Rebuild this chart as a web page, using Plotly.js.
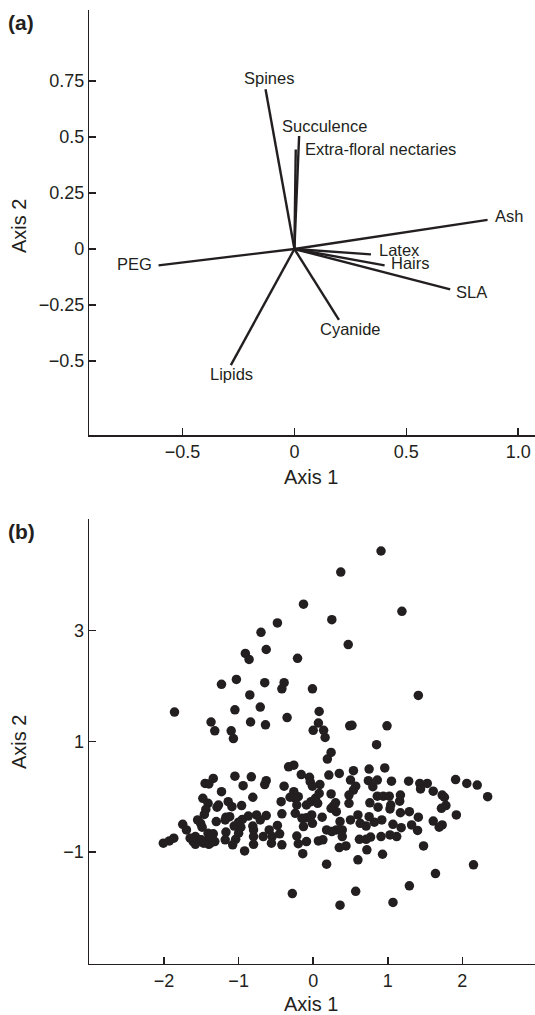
<!DOCTYPE html>
<html>
<head>
<meta charset="utf-8">
<script src="https://cdn.plot.ly/plotly-3.0.1.min.js"></script>
<style>html,body{margin:0;padding:0;background:#fff;}#chart{width:535px;height:1015px;}</style>
</head>
<body>
<div id="chart"></div>
<script>
// ---------- Panel (a): trait loadings ----------
const traitNames = ["Spines","Succulence","Extra-floral nectaries","Ash","Latex","Hairs","SLA","Cyanide","Lipids","PEG"];
const traitAxis1 = [-0.129, 0.021, 0.006, 0.863, 0.342, 0.403, 0.696, 0.199, -0.284, -0.607];
const traitAxis2 = [0.714, 0.505, 0.445, 0.130, -0.024, -0.073, -0.180, -0.317, -0.519, -0.073];

// ---------- Panel (b): site scores ----------
const siteAxis1 = [0.91,0.37,-0.13,1.19,-0.48,0.25,-0.70,0.47,-0.91,-0.86,-0.63,-0.21,-1.23,-1.03,-0.65,-0.39,-0.42,-0.01,-0.85,1.41,
-1.86,-1.05,-0.71,0.08,-1.37,-1.32,-1.10,-1.07,-0.84,-0.64,-0.35,0.07,0.00,0.14,0.16,0.49,0.52,0.99,0.85,0.24,0.19,-0.33,-0.26,
0.54,0.75,0.96,0.35,0.21,-0.16,-0.05,-1.05,-0.83,-1.34,-1.45,-1.40,-0.94,-0.63,-0.65,-0.39,-0.04,-0.01,0.09,0.50,0.57,0.74,0.80,0.86,1.05,1.28,1.43,1.53,1.44,1.61,1.91,2.06,2.20,2.34,1.73,1.76,1.78,1.72,1.92,1.61,1.73,1.69,1.48,1.41,1.40,1.29,1.32,1.18,1.17,1.16,1.17,1.07,1.12,1.03,0.91,0.93,0.92,0.86,0.94,1.02,1.04,1.03,0.87,0.76,0.82,0.75,0.71,0.77,0.71,0.62,0.72,0.60,0.63,0.60,0.50,0.48,0.48,0.54,0.36,0.31,0.27,0.24,0.24,0.30,0.39,0.31,0.39,0.18,0.25,0.44,0.35,0.18,0.07,-0.09,-0.20,-0.14,-0.22,-0.13,-0.01,-0.02,-0.09,-0.15,0.12,-0.24,-0.09,-0.03,0.03,0.08,-0.26,-0.24,-0.20,-0.43,-0.42,-0.48,-0.59,-0.55,-0.67,-0.56,-0.42,-0.63,-0.71,-0.76,-0.87,-0.81,-0.80,-0.80,-0.80,-0.92,-0.95,-0.97,-1.00,-1.04,-1.08,-0.96,-0.81,-1.09,-1.14,-1.17,-1.12,-1.17,-1.23,-1.29,-1.30,-1.34,-1.32,-1.41,-1.44,-1.46,-1.48,-1.51,-1.55,-1.49,-1.41,-1.45,-1.40,-1.37,-1.58,-1.61,-1.65,-1.58,-1.52,-1.70,-1.75,-1.87,-1.93,-2.01,-1.06,-1.00,-0.45,-0.22,-0.31,0.06,0.13,
-1.27,-1.18,-1.56,-1.50,-1.38,-1.47,-1.18,
-0.28,0.36,0.57,1.07,1.29,1.64,2.15];
const siteAxis2 = [4.44,4.06,3.48,3.35,3.14,3.20,2.97,2.75,2.59,2.48,2.66,2.50,2.03,2.12,2.06,2.06,1.95,1.95,1.84,1.83,
1.53,1.57,1.62,1.54,1.35,1.19,1.19,1.05,1.35,1.30,1.43,1.33,1.20,1.20,1.07,1.28,1.29,1.28,0.94,0.80,0.68,0.54,0.57,
0.47,0.50,0.52,0.42,0.39,0.40,0.35,0.37,0.36,0.33,0.24,0.23,0.20,0.29,0.22,0.19,0.27,0.19,0.22,0.30,0.19,0.29,0.18,0.30,0.28,0.28,0.24,0.24,0.14,0.10,0.31,0.24,0.21,0.00,0.03,-0.01,-0.16,-0.21,-0.33,-0.44,-0.51,-0.55,-0.89,-0.37,-0.61,-0.27,-0.51,-0.56,-0.29,-0.08,0.03,-0.50,-0.72,-0.69,-0.72,-1.04,-0.42,0.01,0.01,0.01,-0.15,-0.22,-0.19,-0.11,-0.46,-0.36,-0.53,-0.73,-0.77,-0.77,-0.96,-1.14,-0.48,-0.33,-0.42,-0.12,0.03,0.12,-0.45,-0.27,-0.17,-0.21,0.05,-0.11,-0.60,-0.60,-0.72,-0.60,-0.63,-0.89,-0.92,-1.22,-0.80,-0.81,-0.85,-1.03,-0.71,-0.54,-0.48,-0.33,-0.38,-0.39,-0.37,-0.30,-0.15,-0.09,-0.03,0.06,0.09,-0.03,0.00,-0.09,-0.31,-0.52,-0.60,-0.72,-0.72,-0.84,-0.87,-0.34,-0.42,-0.33,-0.35,-0.53,-0.60,-0.72,-0.86,-0.98,-0.41,-0.55,-0.66,-0.77,-0.87,-0.16,-0.01,-0.18,-0.09,-0.37,-0.36,-0.64,0.09,-0.19,-0.45,-0.67,-0.81,-0.12,-0.23,-0.32,-0.03,-0.48,-0.42,-0.55,-0.66,-0.81,-0.86,-0.75,-0.72,-0.81,-0.75,-0.86,-0.78,-0.60,-0.50,-0.75,-0.80,-0.84,-0.53,-0.46,-0.67,-0.15,-0.01,-0.12,-0.78,
-0.15,-0.42,-0.81,-0.78,-0.84,-0.84,-0.78,
-1.75,-1.96,-1.71,-1.91,-1.61,-1.39,-1.23];

// ---------- Tick labels ----------
const aXTicks = [-0.5, 0, 0.5, 1.0];
const aXTickText = ["\u22120.5", "0", "0.5", "1.0"];
const aYTicks = [-0.5, -0.25, 0, 0.25, 0.5, 0.75];
const aYTickText = ["\u22120.5", "\u22120.25", "0", "0.25", "0.5", "0.75"];
const bXTicks = [-2, -1, 0, 1, 2];
const bXTickText = ["\u22122", "\u22121", "0", "1", "2"];
const bYTicks = [-1, 1, 3];
const bYTickText = ["\u22121", "1", "3"];

// ---------- Styles ----------
const INK = "#231f20";
const FONT = "Liberation Sans, Arial, Helvetica, sans-serif";
const W = 535, H = 1015;
// label placement (pixel offsets from vector tip) and anchors
const labelStyle = {
  "Spines": {xa:"center", dx:3, dy:-11},
  "Succulence": {xa:"center", dx:25, dy:-10},
  "Extra-floral nectaries": {xa:"left", dx:7, dy:0},
  "Ash": {xa:"left", dx:5, dy:-4},
  "Latex": {xa:"left", dx:6, dy:-4},
  "Hairs": {xa:"left", dx:4, dy:-2},
  "SLA": {xa:"left", dx:4, dy:3},
  "Cyanide": {xa:"center", dx:12, dy:9},
  "Lipids": {xa:"center", dx:1, dy:9},
  "PEG": {xa:"right", dx:-5, dy:-1}
};

// vector segments from origin
const vx = [], vy = [];
traitNames.forEach((n, i) => { vx.push(0, traitAxis1[i], null); vy.push(0, traitAxis2[i], null); });

const traces = [
  {type:"scatter", mode:"lines", x:vx, y:vy, xaxis:"x", yaxis:"y",
   line:{color:INK, width:2.4}, hoverinfo:"skip", showlegend:false},
  {type:"scatter", mode:"markers", x:siteAxis1, y:siteAxis2, xaxis:"x2", yaxis:"y2",
   marker:{color:INK, size:9.5, line:{width:0}}, showlegend:false}
];

const annotations = traitNames.map((n, i) => {
  const s = labelStyle[n];
  return {text:n, x:traitAxis1[i], y:traitAxis2[i], xref:"x", yref:"y",
    xanchor:s.xa, yanchor:"middle", xshift:s.dx, yshift:-s.dy, showarrow:false,
    font:{family:FONT, size:16.5, color:INK}};
});
function px(x){return x/W;}
function py(y){return 1 - y/H;}
annotations.push(
  {text:"<b>(a)</b>", x:px(21), y:py(23), xref:"paper", yref:"paper", showarrow:false, xanchor:"center", yanchor:"middle", font:{family:FONT, size:21, color:INK}},
  {text:"<b>(b)</b>", x:px(21), y:py(531), xref:"paper", yref:"paper", showarrow:false, xanchor:"center", yanchor:"middle", font:{family:FONT, size:21, color:INK}},
  {text:"Axis 1", x:px(311), y:py(477), xref:"paper", yref:"paper", showarrow:false, xanchor:"center", yanchor:"middle", font:{family:FONT, size:20, color:INK}},
  {text:"Axis 2", x:px(19), y:py(226), xref:"paper", yref:"paper", showarrow:false, xanchor:"center", yanchor:"middle", textangle:-90, font:{family:FONT, size:20, color:INK}},
  {text:"Axis 1", x:px(311), y:py(1004), xref:"paper", yref:"paper", showarrow:false, xanchor:"center", yanchor:"middle", font:{family:FONT, size:20, color:INK}},
  {text:"Axis 2", x:px(19), y:py(742), xref:"paper", yref:"paper", showarrow:false, xanchor:"center", yanchor:"middle", textangle:-90, font:{family:FONT, size:20, color:INK}}
);

const axCommon = {showline:true, linecolor:INK, linewidth:1.5, ticks:"inside", ticklen:7, tickwidth:1.5,
  tickcolor:INK, showgrid:false, zeroline:false, tickmode:"array", tickfont:{family:FONT, size:18, color:INK},
  fixedrange:true};

const layout = {
  width:W, height:H, margin:{l:0, r:0, t:0, b:0}, paper_bgcolor:"#fff", plot_bgcolor:"#fff",
  showlegend:false, font:{family:FONT, color:INK},
  xaxis:Object.assign({}, axCommon, {domain:[px(89.4), 1], range:[-0.916, 1.075], anchor:"y", tickvals:aXTicks, ticktext:aXTickText}),
  yaxis:Object.assign({}, axCommon, {domain:[py(435), py(10.2)], range:[-0.831, 1.067], anchor:"x", tickvals:aYTicks, ticktext:aYTickText}),
  xaxis2:Object.assign({}, axCommon, {domain:[px(89), 1], range:[-3.007, 2.975], anchor:"y2", tickvals:bXTicks, ticktext:bXTickText}),
  yaxis2:Object.assign({}, axCommon, {domain:[py(963.6), py(519.3)], range:[-3.016, 5.013], anchor:"x2", tickvals:bYTicks, ticktext:bYTickText}),
  annotations:annotations
};

Plotly.newPlot("chart", traces, layout, {staticPlot:true, displayModeBar:false});
</script>
</body>
</html>
